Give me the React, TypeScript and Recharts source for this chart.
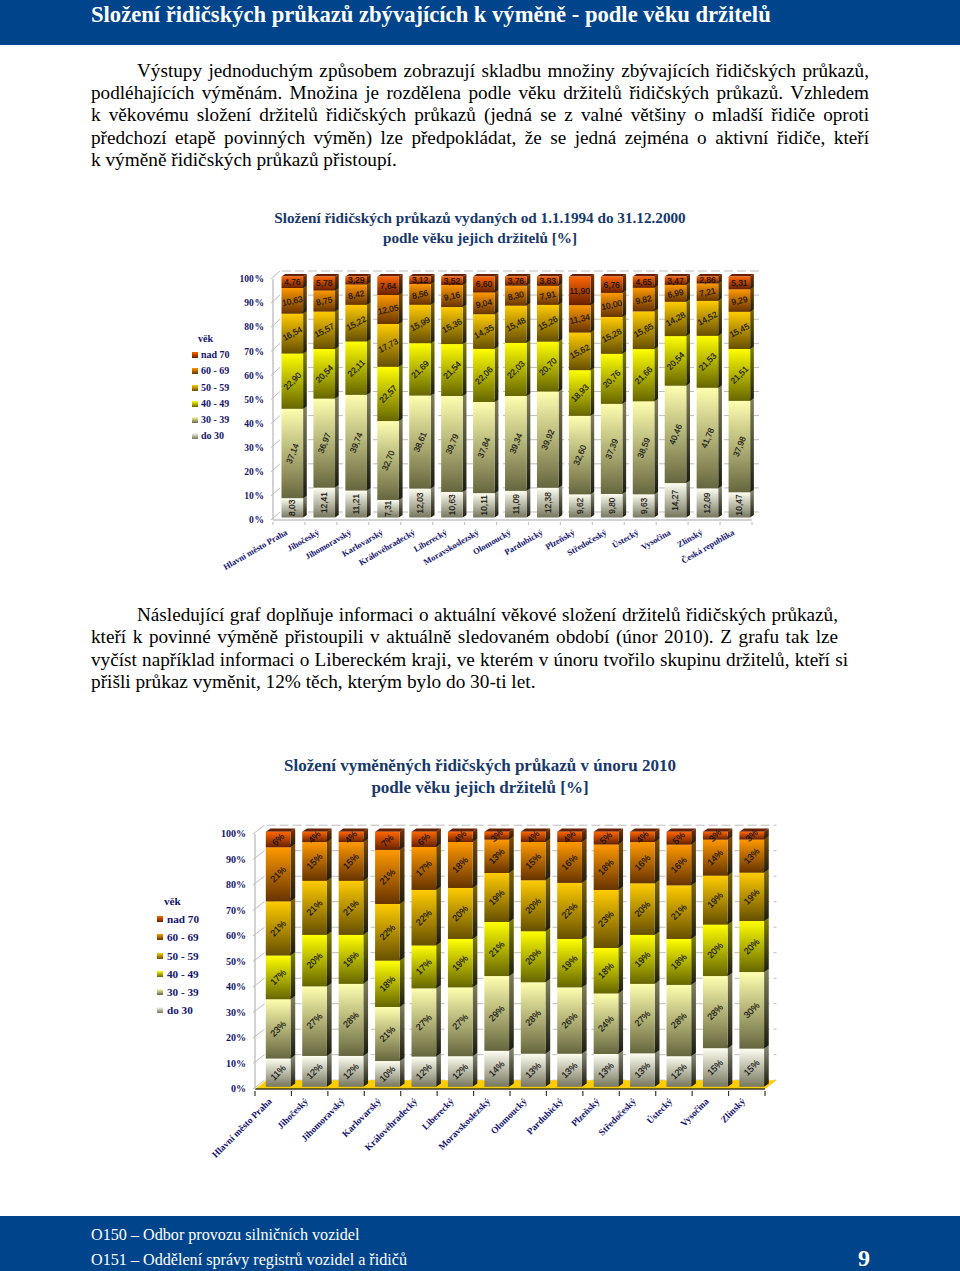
import React from 'react';
import { BarChart, Bar, XAxis, YAxis, CartesianGrid, LabelList, Legend, ReferenceArea } from 'recharts';

const SERIES_KEYS = ['do30', 'a3039', 'a4049', 'a5059', 'a6069', 'nad70'];
const SERIES_NAMES = ['do 30', '30 - 39', '40 - 49', '50 - 59', '60 - 69', 'nad 70'];
const TOP_COLORS = ['#fffff2', '#ffffb0', '#ffff00', '#ffcc00', '#ff9900', '#ff6600'];
const BOTTOM_COLORS = ['#77775f', '#66663f', '#666600', '#664f00', '#663300', '#661f00'];
const SIDE_COLORS = ['#8a8a78', '#80805a', '#808000', '#806600', '#804c00', '#803300'];
const LABEL_ANGLES_A = [-90, -68, -45, -28, -12, 0];

const CATEGORIES_A = ['Hlavní město Praha', 'Jihočeský', 'Jihomoravský', 'Karlovarský', 'Královéhradecký', 'Liberecký', 'Moravskoslezský', 'Olomoucký', 'Pardubický', 'Plzeňský', 'Středočeský', 'Ústecký', 'Vysočina', 'Zlínský', 'Česká republika'];
const DO30_A = [8.03, 12.41, 11.21, 7.31, 12.03, 10.63, 10.11, 11.09, 12.38, 9.62, 9.8, 9.63, 14.27, 12.09, 10.47];
const A3039_A = [37.14, 36.97, 39.74, 32.7, 38.61, 39.79, 37.84, 39.34, 39.92, 32.6, 37.39, 38.59, 40.46, 41.78, 37.98];
const A4049_A = [22.9, 20.54, 22.11, 22.57, 21.69, 21.54, 22.06, 22.03, 20.7, 18.93, 20.76, 21.66, 20.54, 21.53, 21.51];
const A5059_A = [16.54, 15.57, 15.22, 17.73, 15.99, 15.36, 14.35, 15.48, 15.26, 15.62, 15.28, 15.65, 14.28, 14.52, 15.45];
const A6069_A = [10.63, 8.75, 8.42, 12.05, 8.56, 9.16, 9.04, 8.3, 7.91, 11.34, 10.0, 9.82, 6.99, 7.21, 9.29];
const NAD70_A = [4.76, 5.78, 3.29, 7.64, 3.12, 3.52, 6.6, 3.76, 3.83, 11.9, 6.76, 4.65, 3.47, 2.86, 5.31];

const CATEGORIES_B = CATEGORIES_A.slice(0, 14);
const DO30_B = [11, 12, 12, 10, 12, 12, 14, 13, 13, 13, 13, 12, 15, 15];
const A3039_B = [23, 27, 28, 21, 27, 27, 29, 28, 26, 24, 27, 28, 28, 30];
const A4049_B = [17, 20, 19, 18, 17, 19, 21, 20, 19, 18, 19, 18, 20, 20];
const A5059_B = [21, 21, 21, 22, 22, 20, 19, 20, 22, 23, 20, 21, 19, 19];
const A6069_B = [21, 15, 15, 21, 17, 18, 13, 15, 16, 18, 16, 16, 14, 13];
const NAD70_B = [6, 4, 4, 7, 6, 4, 3, 4, 4, 5, 4, 5, 3, 3];

const Y_TICKS = [0, 0.1, 0.2, 0.3, 0.4, 0.5, 0.6, 0.7, 0.8, 0.9, 1];

const table = (cats: string[], cols: number[][]) =>
  cats.map((name, i) => {
    const row: any = { name };
    SERIES_KEYS.forEach((k, s) => (row[k] = cols[s][i]));
    return row;
  });
const dataA = table(CATEGORIES_A, [DO30_A, A3039_A, A4049_A, A5059_A, A6069_A, NAD70_A]);
const dataB = table(CATEGORIES_B, [DO30_B, A3039_B, A4049_B, A5059_B, A6069_B, NAD70_B]);

const NAVY = '#14146e';
const SERIF = '"Liberation Serif", "Times New Roman", serif';
const SANS = '"Liberation Sans", Arial, sans-serif';
const BLUE = '#00458c';

const Prism = (p: any) => {
  const { x, y, width, height, s, ox, oy, dx, dy } = p;
  const L = x + ox, T = y + oy, R = L + width, B = T + height;
  return (
    <g>
      <polygon points={`${R},${T} ${R + dx},${T - dy} ${R + dx},${B - dy} ${R},${B}`} fill={`url(#side${s})`} />
      <polygon points={`${L},${T} ${L + dx},${T - dy} ${R + dx},${T - dy} ${R},${T}`} fill={BOTTOM_COLORS[s]} />
      <rect x={L} y={T} width={width} height={height} fill={`url(#front${s})`} />
    </g>
  );
};

const Gradients = () => (
  <defs>
    {SERIES_KEYS.map((k, s) => (
      <linearGradient key={k} id={`front${s}`} x1="0" y1="0" x2="0" y2="1">
        <stop offset="0" stopColor={TOP_COLORS[s]} />
        <stop offset="1" stopColor={BOTTOM_COLORS[s]} />
      </linearGradient>
    ))}
    {SERIES_KEYS.map((k, s) => (
      <linearGradient key={k} id={`side${s}`} x1="0" y1="0" x2="0" y2="1">
        <stop offset="0" stopColor={SIDE_COLORS[s]} />
        <stop offset="1" stopColor="#1c1c10" />
      </linearGradient>
    ))}
  </defs>
);

const LegendBox = ({ payload, fontSize, gap, swatch, textGap }: any) => {
  const items = [...(payload || [])].sort((a: any, b: any) => SERIES_NAMES.indexOf(b.value) - SERIES_NAMES.indexOf(a.value));
  return (
    <div style={{ fontFamily: SERIF, fontWeight: 700, fontSize, color: NAVY, lineHeight: `${gap}px`, whiteSpace: 'nowrap' }}>
      <div style={{ paddingLeft: swatch + textGap - 3 }}>věk</div>
      {items.map((it: any) => {
        const s = SERIES_NAMES.indexOf(it.value);
        return (
          <div key={it.value} style={{ display: 'flex', alignItems: 'center', height: gap }}>
            <span style={{ display: 'inline-block', width: swatch, height: swatch, marginRight: textGap, background: `linear-gradient(${TOP_COLORS[s]}, ${BOTTOM_COLORS[s]})` }} />
            {it.value}
          </div>
        );
      })}
    </div>
  );
};

type Cfg = {
  data: any[]; plotLeft: number; plotRight: number; plotTop: number; plotBottom: number;
  barSize: number; ox: number; oy: number; dx: number; dy: number; backDx: number; backDy: number;
  tickFont: number; catFont: number; catAngle: number; catDx: number; catDy: number; tickLen: number; axisColor: string;
  floor?: string; yFmt: (t: number) => string; labelFont: number; labelFmt: (v: number) => string; labelAngle: (s: number) => number;
  legendLeft: number; legendTop: number; legendFont: number; legendGap: number; swatch: number; textGap: number;
};

const Chart = (c: Cfg) => {
  const chartTop = c.plotTop - 20;
  const xH = 90;
  const step = (c.plotRight - c.plotLeft) / c.data.length;
  return (
    <div style={{ position: 'absolute', left: 0, top: chartTop }}>
      <BarChart
        width={960}
        height={c.plotBottom - chartTop + xH}
        data={c.data}
        stackOffset="expand"
        margin={{ top: 20, left: c.plotLeft - 60, right: 960 - c.plotRight, bottom: 0 }}
      >
        <Gradients />
        <CartesianGrid
          vertical={false}
          x={c.plotLeft + c.backDx}
          width={c.plotRight - c.plotLeft}
          stroke="#bdbdbd"
          strokeDasharray="9 4"
          horizontalCoordinatesGenerator={({ offset }: any) =>
            Y_TICKS.map((t) => offset.top + offset.height * (1 - t) - c.backDy)
          }
        />
        {c.floor && (
          <ReferenceArea
            y1={0}
            y2={0.001}
            ifOverflow="visible"
            shape={(p: any) => {
              const y0 = p.y + p.height;
              return (
                <polygon
                  points={`${p.x},${y0} ${p.x + p.width},${y0} ${p.x + p.width + c.backDx},${y0 - c.backDy} ${p.x + c.backDx},${y0 - c.backDy}`}
                  fill={c.floor}
                />
              );
            }}
          />
        )}
        <XAxis
          dataKey="name"
          interval={0}
          height={xH}
          tickSize={0}
          tickLine={false}
          axisLine={{ stroke: c.axisColor, strokeWidth: 1.5 }}
          tick={(p: any) => (
            <g>
              {p.index === 0 && <line x1={p.x - step / 2} x2={p.x - step / 2} y1={p.y} y2={p.y + c.tickLen} stroke={c.axisColor} strokeWidth={1.2} />}
              <line x1={p.x + step / 2} x2={p.x + step / 2} y1={p.y} y2={p.y + c.tickLen} stroke={c.axisColor} strokeWidth={1.2} />
              <text
                x={p.x + c.catDx}
                y={p.y + c.catDy}
                textAnchor="end"
                transform={`rotate(${c.catAngle} ${p.x + c.catDx} ${p.y + c.catDy})`}
                style={{ fontFamily: SERIF, fontWeight: 700, fontSize: c.catFont, fill: NAVY }}
              >
                {p.payload.value}
              </text>
            </g>
          )}
        />
        <YAxis
          type="number"
          domain={[0, 1]}
          ticks={Y_TICKS}
          width={60}
          tickSize={0}
          tickLine={false}
          axisLine={{ stroke: '#c4c4c4', strokeWidth: 1.5 }}
          tick={(p: any) => (
            <g>
              <line x1={p.x} y1={p.y} x2={p.x + c.backDx} y2={p.y - c.backDy} stroke="#bdbdbd" />
              <text
                x={p.x - 7}
                y={p.y + c.tickFont * 0.34}
                textAnchor="end"
                style={{ fontFamily: SERIF, fontWeight: 700, fontSize: c.tickFont, fill: NAVY }}
              >
                {c.yFmt(p.payload.value)}
              </text>
            </g>
          )}
        />
        <Legend
          layout="vertical"
          align="center"
          verticalAlign="middle"
          wrapperStyle={{ left: c.legendLeft, top: c.legendTop - chartTop, width: 90 }}
          content={(p: any) => (
            <LegendBox payload={p.payload} fontSize={c.legendFont} gap={c.legendGap} swatch={c.swatch} textGap={c.textGap} />
          )}
        />
        {SERIES_KEYS.map((k, s) => (
          <Bar
            key={k}
            dataKey={k}
            name={SERIES_NAMES[s]}
            stackId="a"
            barSize={c.barSize}
            fill={TOP_COLORS[s]}
            isAnimationActive={false}
            shape={(p: any) => <Prism {...p} s={s} ox={c.ox} oy={c.oy} dx={c.dx} dy={c.dy} />}
          >
            <LabelList
              dataKey={k}
              content={(p: any) => {
                const cx = p.x + p.width / 2 + c.ox;
                const cy = p.y + p.height / 2 + c.oy;
                return (
                  <text
                    x={cx}
                    y={cy}
                    textAnchor="middle"
                    dominantBaseline="central"
                    transform={`rotate(${c.labelAngle(s)} ${cx} ${cy})`}
                    style={{ fontFamily: SANS, fontSize: c.labelFont, fill: '#111', stroke: '#111', strokeWidth: 0.15 }}
                  >
                    {c.labelFmt(p.value)}
                  </text>
                );
              }}
            />
          </Bar>
        ))}
      </BarChart>
    </div>
  );
};

const Line = ({ l, r = 869, y, text, just = true, size = 19.2 }: any) => (
  <div
    style={{
      position: 'absolute', left: l, width: r - l, top: y - 12, height: 24, lineHeight: '24px', overflow: 'hidden',
      fontFamily: SERIF, fontSize: size, color: '#000', textAlign: just ? 'justify' : 'left', textAlignLast: just ? 'justify' : 'left',
    }}
  >
    {text}
  </div>
);

const Title = ({ y, text, size }: any) => (
  <div style={{ position: 'absolute', left: 0, width: 960, top: y - 12, lineHeight: '24px', textAlign: 'center', fontFamily: SERIF, fontWeight: 700, fontSize: size, color: '#17386b' }}>
    {text}
  </div>
);

export default function App() {
  return (
    <div style={{ position: 'absolute', left: 0, top: 0, width: 960, height: 1271, background: '#fff', overflow: 'hidden' }}>
      <div style={{ position: 'absolute', left: 0, top: 0, width: 960, height: 45, background: BLUE }} />
      <div style={{ position: 'absolute', left: 91, top: 0, lineHeight: '29px', fontFamily: SERIF, fontWeight: 700, fontSize: 22.6, color: '#fff', whiteSpace: 'nowrap' }}>
        Složení řidičských průkazů zbývajících k výměně - podle věku držitelů
      </div>

      <Line l={137} y={71} text="Výstupy jednoduchým způsobem zobrazují skladbu množiny zbývajících řidičských průkazů," />
      <Line l={91} y={93} text="podléhajících výměnám. Množina je rozdělena podle věku držitelů řidičských průkazů. Vzhledem" />
      <Line l={91} y={115} text="k věkovému složení držitelů řidičských průkazů (jedná se z valné většiny o mladší řidiče oproti" />
      <Line l={91} y={138} text="předchozí etapě povinných výměn) lze předpokládat, že se jedná zejména o aktivní řidiče, kteří" />
      <Line l={91} y={160} just={false} size={19.3} text="k výměně řidičských průkazů přistoupí." />

      <Title y={218} size={15.2} text="Složení řidičských průkazů vydaných od 1.1.1994 do 31.12.2000" />
      <Title y={238} size={15.2} text="podle věku jejich držitelů [%]" />

      <Chart
        data={dataA} plotLeft={273} plotRight={752} plotTop={279} plotBottom={520}
        barSize={21.6} ox={3.5} oy={-2.5} dx={3.7} dy={2.5} backDx={9} backDy={8}
        tickFont={9.5} catFont={8.5} catAngle={-30} catDx={-1} catDy={12} tickLen={3} axisColor="#c4c4c4"
        yFmt={(t) => `${Math.round(t * 100)}\u200A%`}
        labelFont={8.4} labelFmt={(v) => v.toFixed(2).replace('.', ',')} labelAngle={(s) => LABEL_ANGLES_A[s]}
        legendLeft={192} legendTop={331} legendFont={10} legendGap={16.2} swatch={6} textGap={3}
      />

      <Line l={137} r={838} y={615} text="Následující graf doplňuje informaci o aktuální věkové složení držitelů řidičských průkazů," />
      <Line l={91} r={838} y={637} text="kteří k povinné výměně přistoupili v aktuálně sledovaném období (únor 2010). Z grafu tak lze" />
      <Line l={91} r={848} y={660} text="vyčíst například informaci o Libereckém kraji, ve kterém v únoru tvořilo skupinu držitelů, kteří si" />
      <Line l={91} y={682} just={false} size={19.3} text="přišli průkaz vyměnit, 12% těch, kterým bylo do 30-ti let." />

      <Title y={766} size={17} text="Složení vyměněných řidičských průkazů v únoru 2010" />
      <Title y={788} size={17} text="podle věku jejich držitelů [%]" />

      <Chart
        data={dataB} plotLeft={255} plotRight={765} plotTop={834} plotBottom={1089}
        barSize={24.7} ox={4.8} oy={-2.2} dx={4.7} dy={3.4} backDx={11.5} backDy={8.8}
        tickFont={10} catFont={9.4} catAngle={-45} catDx={-1} catDy={11} tickLen={5} axisColor="#3a3a20" floor="#ffcc00"
        yFmt={(t) => `${Math.round(t * 100)}%`}
        labelFont={9} labelFmt={(v) => `${v}%`} labelAngle={() => -45}
        legendLeft={157} legendTop={892} legendFont={11.2} legendGap={18.2} swatch={6} textGap={4}
      />

      <div style={{ position: 'absolute', left: 0, top: 1216, width: 960, height: 55, background: BLUE }} />
      <div style={{ position: 'absolute', left: 91, top: 1224, lineHeight: '22px', fontFamily: SERIF, fontSize: 16.15, color: '#fff', whiteSpace: 'nowrap' }}>O150 – Odbor provozu silničních vozidel</div>
      <div style={{ position: 'absolute', left: 91, top: 1249, lineHeight: '22px', fontFamily: SERIF, fontSize: 16.15, color: '#fff', whiteSpace: 'nowrap' }}>O151 – Oddělení správy registrů vozidel a řidičů</div>
      <div style={{ position: 'absolute', left: 858, top: 1244, lineHeight: '28px', fontFamily: SERIF, fontWeight: 700, fontSize: 24, color: '#fff' }}>9</div>
    </div>
  );
}
